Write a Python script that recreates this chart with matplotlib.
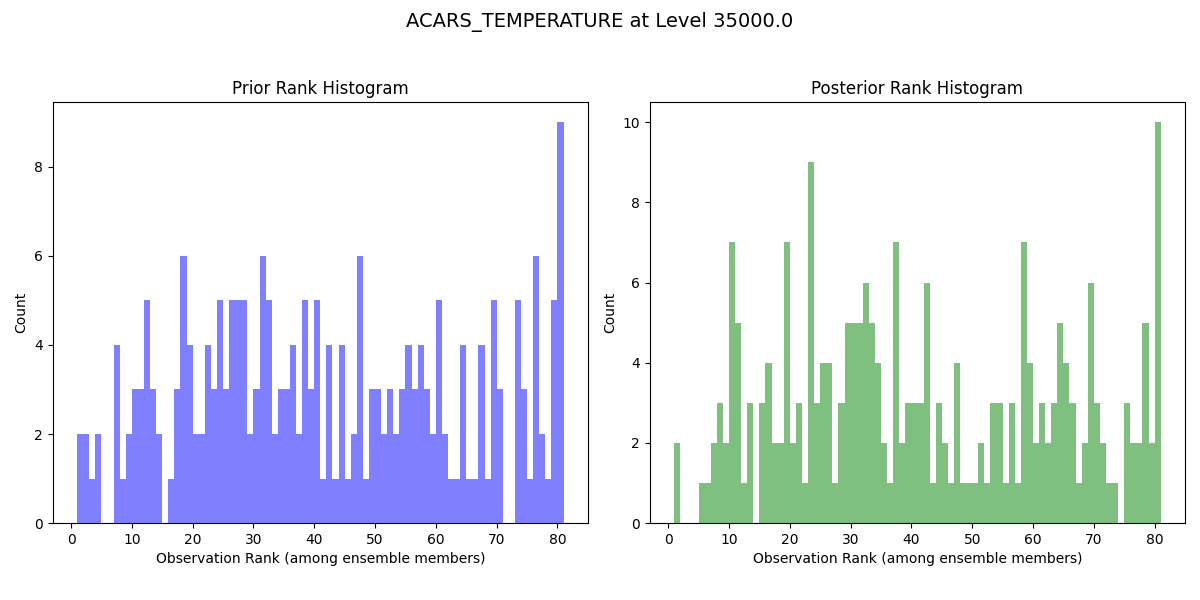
import numpy as np
import matplotlib
matplotlib.use("Agg")
import matplotlib.pyplot as plt

ranks = list(range(1, 81))
prior_counts = [2,2,1,2,0,0,4,1,2,3,3,5,3,2,0,1,3,6,4,2,
                2,4,3,5,3,5,5,5,2,3,6,5,2,3,3,4,2,5,3,5,
                1,4,1,4,1,2,6,1,3,3,2,3,2,3,4,3,4,3,2,5,
                2,1,1,4,1,1,4,1,5,3,0,0,5,3,1,6,2,1,5,9]
post_counts = [2,0,0,0,1,1,2,3,2,7,5,1,3,0,3,4,2,2,7,2,
               3,1,9,3,4,4,1,3,5,5,5,6,5,4,2,1,7,2,3,3,
               3,6,1,3,2,1,4,1,1,1,2,1,3,3,1,3,1,7,4,2,
               3,2,3,5,4,3,1,2,6,3,2,1,1,0,3,2,2,5,2,10]
edges = np.arange(1, 82)

fig, axes = plt.subplots(1, 2, figsize=(12, 6), dpi=100)
fig.suptitle("ACARS_TEMPERATURE at Level 35000.0", fontsize=14)
for ax, counts, color, title in [
    (axes[0], prior_counts, "blue", "Prior Rank Histogram"),
    (axes[1], post_counts, "green", "Posterior Rank Histogram"),
]:
    ax.hist(ranks, bins=edges, weights=counts, color=color, alpha=0.5)
    ax.set_title(title)
    ax.set_xlabel("Observation Rank (among ensemble members)")
    ax.set_ylabel("Count")
fig.subplots_adjust(left=0.044, right=0.9875, top=0.83, bottom=0.128, wspace=0.116)
fig.savefig("out.png")
